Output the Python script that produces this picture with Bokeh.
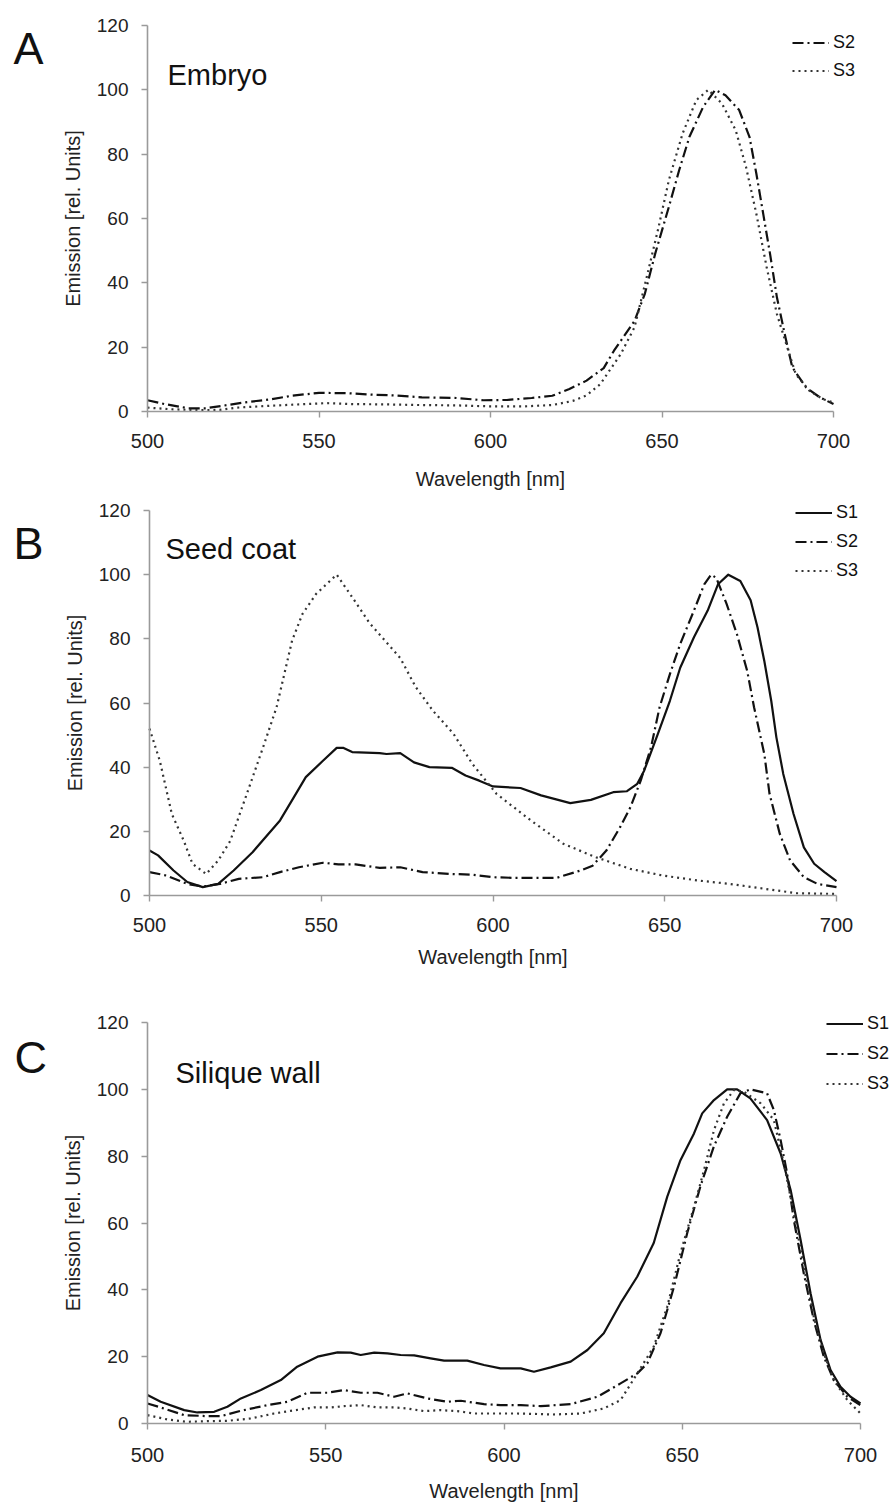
from bokeh.plotting import figure
from bokeh.layouts import column
from bokeh.models import Range1d, FixedTicker, Label, Legend, LegendItem
from bokeh.embed import file_html
from bokeh.resources import INLINE

# ---------------- data ----------------
# Panel A - Embryo
a_s2_x = [500, 505, 512, 517, 522, 528, 536, 542, 550, 558, 566, 572, 580, 590, 598, 605, 612, 618, 623, 628,
          633, 636, 642, 645, 648, 652, 655, 658, 662, 665.5, 668.5, 672.5, 675.5, 677.5, 679.5, 681.5, 683.5,
          686, 688, 692, 696, 700]
a_s2_y = [3.5, 2.3, 1.0, 1.0, 1.8, 2.8, 3.8, 4.9, 5.8, 5.7, 5.2, 5.0, 4.4, 4.2, 3.5, 3.6, 4.2, 4.9, 7.0, 9.6,
          13.5, 18.9, 28.2, 36.6, 49, 63.6, 75, 85.4, 94.7, 100, 98.3, 93.7, 85.4, 74, 61.5, 49, 35.5,
          23, 13.7, 7.5, 4.4, 2.3]
a_s3_x = [500, 507, 515, 521, 526, 536, 546, 552, 560, 570, 580, 590, 600, 610, 618, 624, 628, 632, 638, 642,
          646, 649, 652, 656, 660, 663.5, 667.5, 671.5, 674.5, 677.5, 680.5, 683.5, 686.5, 689, 693, 697, 700]
a_s3_y = [1.2, 0.7, 0.4, 0.5, 1.2, 1.8, 2.3, 2.6, 2.3, 2.2, 2.0, 1.9, 1.6, 1.6, 2.0, 3.3, 5.0, 8.5, 17.9, 26.2,
          43.8, 57.3, 71.9, 86.4, 96.8, 100, 95.7, 87.4, 76, 61.5, 44.9, 30.3, 20, 11.6, 6.4, 3.8, 2.8]

# Panel B - Seed coat
b_s1_x = [500, 502.5, 507, 511, 515.5, 520, 524.5, 530, 538, 542, 545.5, 550.5, 554.5, 556.5, 559, 567, 569,
          573, 577, 581.5, 588, 592, 596, 600, 608, 614, 622.5, 628.5, 635, 639, 642, 644, 648, 651.5, 654.5,
          658.5, 662.5, 665.5, 668.5, 672, 675, 677, 679, 681, 682.5, 684.5, 687.5, 690.5, 693.5, 696.5, 700]
b_s1_y = [14, 12.5, 7.8, 4.2, 2.6, 3.6, 7.8, 13.5, 23.4, 30.6, 36.9, 42, 46, 46, 44.7, 44.4, 44.1,
          44.4, 41.5, 40, 39.8, 37.4, 35.8, 34, 33.5, 31.2, 28.8, 29.8, 32.2, 32.5, 34.8, 38.9, 50.4, 60.7, 71,
          80.5, 88.8, 97, 100, 98, 92, 83.6, 73, 60.7, 49.3, 37.9, 25.4, 15, 9.9, 7.3, 4.5]
b_s2_x = [500, 505, 511, 515.5, 520.5, 526, 533, 538, 543.5, 550.5, 555, 560, 567, 573, 579.5, 588, 594, 600,
          606, 618.5, 625.5, 629, 633, 637, 640, 643, 646, 648.5, 651.5, 654.5, 658.5, 661.5, 663.5, 665, 668,
          671, 674, 676, 679, 680.5, 683.5, 686.5, 690.5, 694.5, 700]
b_s2_y = [7.3, 6.2, 3.6, 2.8, 3.6, 5.2, 5.7, 7.3, 8.8, 10.2, 9.7, 9.7, 8.6, 8.8, 7.3, 6.7, 6.5, 5.7,
          5.5, 5.5, 7.8, 9.3, 14, 21.3, 27.5, 35.8, 46.2, 58.7, 69, 78.4, 88.8, 97, 100, 99, 90.9,
          81.5, 70, 58.7, 44, 31.7, 19.2, 10.9, 5.7, 3.6, 2.6]
b_s3_x = [500, 503, 506.5, 510, 512.5, 516.5, 520, 523.5, 529, 533, 537, 541.5, 544.5, 548.5, 554.5, 559, 564,
          573, 577.5, 582.5, 588.5, 594, 601, 611, 620.5, 630, 640, 649.5, 659.5, 669, 679, 688.5, 700]
b_s3_y = [52, 42, 25.4, 17, 9.9, 6.7, 10.9, 17, 33.7, 46, 58.7, 79.4, 87.7, 94, 100, 93, 85,
          74, 65, 57.6, 50.4, 41, 31.7, 23.4, 16.1, 11.9, 8.3, 6.2, 4.7, 3.6, 2.1, 0.7, 0.5]

# Panel C - Silique wall
c_s1_x = [500, 503.7, 510.3, 514, 518.7, 522.4, 526.2, 531.8, 537.4, 542, 547.7, 553.3, 557, 559.8, 563.6,
          567.3, 571, 574.8, 579.4, 583.2, 589.7, 594.4, 599, 604.7, 608.4, 613.1, 618.7, 623.4, 628, 632.7,
          637.4, 642, 645.8, 649.5, 653.3, 655.6, 658.9, 662.6, 665.4, 669.1, 673.8, 677.6, 680.4, 683.2,
          686, 688.8, 691.6, 694.4, 697.2, 700]
c_s1_y = [8.5, 6.5, 4.0, 3.3, 3.5, 5.0, 7.5, 10, 13, 17, 20, 21.3, 21.2, 20.5, 21.2,
          21, 20.5, 20.4, 19.5, 18.8, 18.8, 17.5, 16.5, 16.5, 15.5, 16.8, 18.5, 22, 27, 36,
          44, 54, 67.9, 78.8, 86.8, 92.8, 96.8, 100, 100, 97.3, 90.8, 80.8, 69.9, 54.9,
          38.9, 25, 16, 11, 8, 6]
c_s2_x = [500, 503.7, 510.3, 516.8, 520.6, 526.2, 533.6, 539.3, 544.9, 550.5, 555.1, 559.8, 564.5, 569.2,
          572.9, 578.5, 584.1, 587.9, 594.4, 599, 604.7, 610.3, 618.7, 626.2, 632.7, 637.4, 640.2, 643.9,
          647.7, 651.4, 655.1, 658.9, 662.6, 666.3, 669.1, 673.8, 675.7, 677.6, 679.4, 681.3, 684.1, 686.9,
          689.7, 692.5, 696.3, 700]
c_s2_y = [6, 4.8, 2.5, 2.2, 2.2, 3.8, 5.5, 6.5, 9.2, 9.2, 10, 9.2, 9.2, 8,
          9, 7.5, 6.5, 6.8, 5.8, 5.5, 5.5, 5.2, 5.8, 8, 12, 15, 18, 27,
          41, 57, 71, 83, 91.8, 98.8, 100, 98.8, 93.8, 84.8, 74.9, 60.9, 44.9, 30.9,
          20, 13, 8, 5.5]
c_s3_x = [500, 505.6, 511.2, 516.8, 522.4, 529, 535.5, 540.2, 546.7, 551.4, 555.1, 559.8, 564.5, 569.2, 572.9,
          577.6, 582.2, 586.9, 591.6, 597.2, 603.7, 614, 621.5, 628, 632.7, 637.4, 642, 645.8, 649.5, 653.3,
          656.1, 658.9, 661.7, 664.5, 667.3, 672, 675.7, 678.5, 681.3, 684.1, 686.9, 689.7, 692.5, 696.3, 700]
c_s3_y = [2.5, 1.2, 0.5, 0.7, 0.8, 1.5, 3, 3.8, 4.8, 4.8, 5.2, 5.5, 4.8, 4.8, 4.5,
          3.7, 4, 3.7, 3, 3, 3, 2.7, 3, 4.5, 7, 15, 23, 35, 51, 64.9,
          75.8, 87.8, 95.8, 99.8, 99.3, 95.8, 90.8, 77.8, 62.9, 46.9, 31.9, 21, 13, 7, 3]

x_ticks = [500, 550, 600, 650, 700]
y_ticks = [0, 20, 40, 60, 80, 100, 120]
series_names = ["S1", "S2", "S3"]
panel_letters = ["A", "B", "C"]
panel_titles = ["Embryo", "Seed coat", "Silique wall"]
x_label = "Wavelength [nm]"
y_label = "Emission [rel. Units]"

# ---------------- styling ----------------
FONT = "Liberation Sans"
STYLES = {
    "S1": dict(line_dash="solid", line_width=2.2, line_color="#111111"),
    "S2": dict(line_dash="11 4 2 4", line_width=2.2, line_color="#111111"),
    "S3": dict(line_dash="2 4", line_width=2.2, line_color="#333333"),
}

W = 889
layouts = [
    # figure height, canvas offset, plot-area left/right/top/bottom (page pixels)
    dict(h=490, off=0, fl=147, fr=833, ft=25, fb=411,
         letter=(13, 48), title=(167, 74), leg_x=792, leg_y=41.7, leg_pitch=28.3,
         tick_sd=16, lab_sd=17),
    dict(h=515, off=490, fl=149, fr=836, ft=510, fb=895,
         letter=(13, 543), title=(165, 548), leg_x=795, leg_y=512.3, leg_pitch=29.2,
         tick_sd=16, lab_sd=11),
    dict(h=506, off=1005, fl=147, fr=860, ft=1022, fb=1423,
         letter=(14, 1057), title=(175, 1072), leg_x=826, leg_y=1023, leg_pitch=30,
         tick_sd=18, lab_sd=15),
]

panel_series = [
    [("S2", a_s2_x, a_s2_y), ("S3", a_s3_x, a_s3_y)],
    [("S1", b_s1_x, b_s1_y), ("S2", b_s2_x, b_s2_y), ("S3", b_s3_x, b_s3_y)],
    [("S1", c_s1_x, c_s1_y), ("S2", c_s2_x, c_s2_y), ("S3", c_s3_x, c_s3_y)],
]

figs = []
for i, L in enumerate(layouts):
    kx = 200.0 / (L["fr"] - L["fl"])
    ky = 120.0 / (L["fb"] - L["ft"])
    fb_local = L["fb"] - L["off"]
    # the frame spans the whole canvas; axes are pinned with fixed_location and bounds
    x0 = 500 - L["fl"] * kx
    x1 = 500 + (W - L["fl"]) * kx
    y0 = -(L["h"] - fb_local) * ky
    y1 = fb_local * ky

    p = figure(width=W, height=L["h"], output_backend="svg", toolbar_location=None,
               x_range=Range1d(x0, x1), y_range=Range1d(y0, y1),
               min_border=0, min_border_left=0, min_border_right=0,
               min_border_top=0, min_border_bottom=0,
               background_fill_color="white", border_fill_color="white")
    p.outline_line_color = None
    p.grid.visible = False

    def to_data(px, py, L=L, kx=kx, ky=ky):
        return (500 + (px - L["fl"]) * kx, (L["fb"] - py) * ky)

    p.xaxis.fixed_location = 0
    p.yaxis.fixed_location = 500
    p.xaxis.bounds = (500, 700)
    p.yaxis.bounds = (0, 120)
    for ax in (p.xaxis[0], p.yaxis[0]):
        ax.axis_line_color = "#9a9a9a"
        ax.axis_line_width = 1.6
        ax.major_tick_line_color = "#9a9a9a"
        ax.major_tick_line_width = 1.4
        ax.major_tick_out = 6
        ax.major_tick_in = 0
        ax.minor_tick_line_color = None
        ax.major_label_text_font = FONT
        ax.major_label_text_color = "#222222"
        ax.axis_label_text_font = FONT
        ax.axis_label_text_font_style = "normal"
        ax.axis_label_text_color = "#222222"
        ax.axis_label_text_font_size = "20px"
    p.xaxis.ticker = FixedTicker(ticks=x_ticks)
    p.yaxis.ticker = FixedTicker(ticks=y_ticks)
    p.xaxis.major_label_text_font_size = "20px"
    p.yaxis.major_label_text_font_size = "19px"
    p.xaxis.major_label_standoff = L["tick_sd"]
    p.xaxis.axis_label_standoff = L["lab_sd"]
    p.yaxis.major_label_standoff = 13
    p.yaxis.axis_label_standoff = 10
    p.xaxis.axis_label = x_label
    p.yaxis.axis_label = y_label

    items = []
    for name, xs, ys in panel_series[i]:
        r = p.line(xs, ys, line_join="round", **STYLES[name])
        items.append(LegendItem(label=name, renderers=[r]))

    n = len(items)
    gh = 21
    sp = L["leg_pitch"] - gh
    leg_h = n * gh + (n - 1) * sp
    top_local = L["leg_y"] - gh / 2.0 - L["off"]
    leg = Legend(items=items, location=(L["leg_x"], L["h"] - top_local - leg_h),
                 orientation="vertical", glyph_width=37, glyph_height=gh, label_height=gh,
                 spacing=int(round(sp)), padding=0, margin=0, label_standoff=4,
                 label_text_font=FONT, label_text_font_size="18px", label_text_color="#111111",
                 border_line_color=None, background_fill_alpha=0.0)
    p.add_layout(leg)

    lx, ly = to_data(*L["letter"])
    p.add_layout(Label(x=lx, y=ly, text=panel_letters[i], text_font=FONT, text_font_size="45px",
                       text_color="#111111", text_align="left", text_baseline="alphabetic"))
    tx, ty = to_data(*L["title"])
    p.add_layout(Label(x=tx, y=ty, text=panel_titles[i], text_font=FONT, text_font_size="29px",
                       text_color="#111111", text_align="left", text_baseline="alphabetic"))
    figs.append(p)

layout = column(*figs, spacing=0)
open("out.html", "w").write(file_html(layout, INLINE))
